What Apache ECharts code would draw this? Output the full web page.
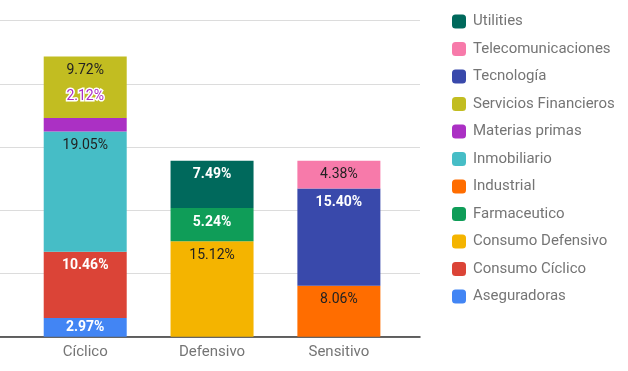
<!DOCTYPE html>
<html><head><meta charset="utf-8">
<script src="https://cdn.jsdelivr.net/npm/echarts@6/dist/echarts.min.js"></script>
<style>html,body{margin:0;padding:0;background:#fff}#c{width:628px;height:371px}</style>
</head><body><div id="c"></div>
<script>
const categories = ['Cíclico', 'Defensivo', 'Sensitivo'];
const seriesNames = ['Aseguradoras','Consumo Cíclico','Consumo Defensivo','Farmaceutico','Industrial','Inmobiliario','Materias primas','Servicios Financieros','Tecnología','Telecomunicaciones','Utilities'];
const aseguradoras = [2.97, null, null];
const consumoCiclico = [10.46, null, null];
const consumoDefensivo = [null, 15.12, null];
const farmaceutico = [null, 5.24, null];
const industrial = [null, null, 8.06];
const inmobiliario = [19.05, null, null];
const materiasPrimas = [2.12, null, null];
const serviciosFinancieros = [9.72, null, null];
const tecnologia = [null, null, 15.40];
const telecomunicaciones = [null, null, 4.38];
const utilities = [null, 7.49, null];
const yTicks = [0, 10, 20, 30, 40, 50];

const values = [aseguradoras, consumoCiclico, consumoDefensivo, farmaceutico, industrial, inmobiliario, materiasPrimas, serviciosFinancieros, tecnologia, telecomunicaciones, utilities];
const colors = ['#4285F4','#DB4437','#F4B400','#0F9D58','#FF6D00','#46BDC6','#AB30C4','#C2BD21','#3949AB','#F77AAA','#00695C'];
const labelColors = ['#fff','#fff','#222','#fff','#222','#222','#AB30C4','#222','#fff','#222','#fff'];
const boldLabel = [true,true,false,true,false,false,false,false,true,false,true];

const series = seriesNames.map((name, i) => {
  const s = {
    name, type: 'bar', stack: 'total', xAxisIndex: 1, yAxisIndex: 1,
    barWidth: 83,
    itemStyle: { color: colors[i] },
    emphasis: { disabled: true },
    label: {
      show: true, position: 'insideTop', distance: 7,
      fontFamily: 'Roboto', fontSize: 14,
      fontWeight: boldLabel[i] ? 'bold' : 'normal',
      color: labelColors[i],
      formatter: p => p.value.toFixed(2) + '%'
    },
    data: values[i].map(v => v)
  };
  if (name === 'Aseguradoras') {
    s.data = values[i].map(v => v == null ? v : { value: v, label: { position: 'inside' } });
  }
  if (name === 'Materias primas') {
    s.label.position = 'top';
    s.label.distance = 15;
    s.label.textBorderColor = '#fff';
    s.label.textBorderWidth = 3;
  }
  return s;
});

const chart = echarts.init(document.getElementById('c'));
chart.setOption({
  animation: false,
  color: colors,
  legend: {
    orient: 'vertical', left: 447, top: 9,
    data: seriesNames.slice().reverse(),
    itemWidth: 14, itemHeight: 14, itemGap: 12.5,
    icon: 'roundRect',
    textStyle: { fontFamily: 'Roboto', fontSize: 15, color: '#757575', lineHeight: 15, padding: [0,0,0,2] }
  },
  grid: [
    { left: 0, width: 420, top: 20.7, bottom: 34.3 },
    { left: 21.8, width: 380.5, top: 20.7, bottom: 34.3 }
  ],
  xAxis: [
    { type: 'category', gridIndex: 0, data: categories, axisLabel: { show: false }, axisTick: { show: false },
      axisLine: { show: true, lineStyle: { color: '#333', width: 1.5 } } },
    { type: 'category', gridIndex: 1, data: categories, axisTick: { show: false }, axisLine: { show: false },
      axisLabel: { fontFamily: 'Roboto', fontSize: 15, color: '#757575', margin: 8 } }
  ],
  yAxis: [
    { type: 'value', gridIndex: 0, min: yTicks[0], max: yTicks[yTicks.length-1], interval: 10,
      axisLabel: { show: false }, axisLine: { show: false }, axisTick: { show: false },
      splitLine: { lineStyle: { color: '#dcdcdc', width: 1 } } },
    { type: 'value', gridIndex: 1, min: yTicks[0], max: yTicks[yTicks.length-1], interval: 10,
      axisLabel: { show: false }, axisLine: { show: false }, axisTick: { show: false },
      splitLine: { show: false } }
  ],
  series
});
</script></body></html>
